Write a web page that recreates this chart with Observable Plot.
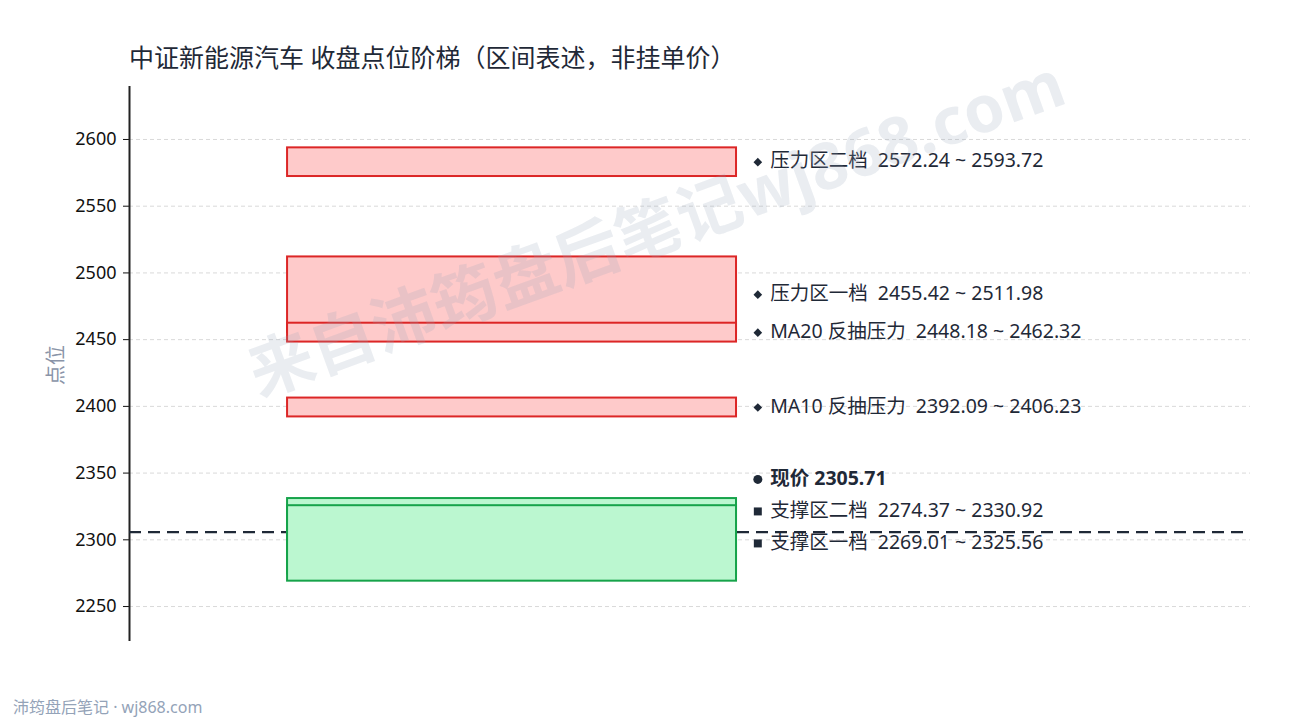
<!DOCTYPE html>
<html>
<head>
<meta charset="utf-8">
<script src="https://cdn.jsdelivr.net/npm/d3@7"></script>
<script src="https://cdn.jsdelivr.net/npm/@observablehq/plot@0.6"></script>
<style>
  html, body { margin: 0; padding: 0; background: #fff; }
  body { width: 1290px; height: 720px; overflow: hidden; font-family: "Noto Sans", "Noto Sans CJK SC", sans-serif; }
  #title { height: 80px; box-sizing: border-box; padding: 42px 0 0 129px; font-size: 25px; line-height: 30px; color: #1f2937; }
  #chart svg text { white-space: pre; }
  #footer { box-sizing: border-box; padding: 37px 0 0 13px; font-size: 16px; line-height: 20px; color: #94a3b8; }
</style>
</head>
<body>
<div id="title">中证新能源汽车 收盘点位阶梯（区间表述，非挂单价）</div>
<div id="chart"></div>
<div id="footer">沛筠盘后笔记 · wj868.com</div>
<script>
// ---- data ----
const zoneNames = ["压力区二档", "压力区一档", "MA20 反抽压力", "MA10 反抽压力", "支撑区二档", "支撑区一档"];
const zoneLow   = [2572.24, 2455.42, 2448.18, 2392.09, 2274.37, 2269.01];
const zoneHigh  = [2593.72, 2511.98, 2462.32, 2406.23, 2330.92, 2325.56];
const zoneKind  = ["压力", "压力", "压力", "压力", "支撑", "支撑"];
const currentLabel = "现价";
const currentPrice = 2305.71;
const yTicks = [2250, 2300, 2350, 2400, 2450, 2500, 2550, 2600];
const yLabel = "点位";
const watermark = "来自沛筠盘后笔记wj868.com";

// ---- build tables ----
const zones = zoneNames.map((name, i) => ({
  name, lo: zoneLow[i], hi: zoneHigh[i], kind: zoneKind[i]
}));

const W = 1290, H = 580, mT = 6, mB = 19, mL = 129, mR = 40;
const yDomain = [2223.8, 2639.7];
const pxPerUnit = (H - mT - mB) / (yDomain[1] - yDomain[0]);
const gapUnits = 32 / pxPerUnit;

// labels (zones + current price), de-overlapped from bottom up
let labels = zones.map(z => ({
  text: `${z.name}  ${z.lo.toFixed(2)} ~ ${z.hi.toFixed(2)}`,
  mid: (z.lo + z.hi) / 2,
  symbol: z.kind === "压力" ? "diamond2" : "square",
  r: z.kind === "压力" ? 3.9 : 4.5,
  bold: false
}));
labels.push({ text: `${currentLabel} ${currentPrice.toFixed(2)}`, mid: currentPrice, symbol: "circle", r: 4.5, bold: true });
labels.sort((a, b) => a.mid - b.mid);
let prev = -Infinity;
for (const l of labels) { l.y = Math.max(l.mid, prev + gapUnits); prev = l.y; }

const colors = {
  "压力": { fill: "#fecaca", stroke: "#dc2626" },
  "支撑": { fill: "#bbf7d0", stroke: "#16a34a" }
};

const font = '"Noto Sans", "Noto Sans CJK SC", sans-serif';

const chart = Plot.plot({
  width: W, height: H,
  marginTop: mT, marginBottom: mB, marginLeft: mL, marginRight: mR,
  style: { fontFamily: font, background: "#fff", overflow: "visible" },
  x: { domain: [0, 1], axis: null },
  y: { domain: yDomain, axis: null },
  r: { type: "identity" },
  marks: [
    Plot.gridY(yTicks, { stroke: "#d9d9d9", strokeOpacity: 1, strokeDasharray: "4,3" }),
    Plot.axisY(yTicks, { tickSize: 6, tickPadding: 7, fontSize: 18, fill: "#111", stroke: "#111", label: null, tickFormat: d => String(d) }),
    Plot.ruleX([0], { stroke: "#222", strokeWidth: 2 }),
    Plot.text([yLabel], { text: d => d, frameAnchor: "left", dx: -73, dy: 21, rotate: -90, fontSize: 20, fill: "#8a94a8" }),
    Plot.dot(labels, { x: 0.5605, y: "y", symbol: "symbol", r: "r", fill: "#1f2937", stroke: null }),
    Plot.text(labels.filter(l => !l.bold), { x: 0.5715, y: "y", text: "text", textAnchor: "start", fontSize: 19.5, fill: "#1f2937", dy: -1 }),
    Plot.text(labels.filter(l => l.bold), { x: 0.5715, y: "y", text: "text", textAnchor: "start", fontSize: 19.5, fontWeight: "bold", fill: "#1f2937", dy: -1 }),
    Plot.ruleY([currentPrice], { stroke: "#1f2937", strokeWidth: 2.2, strokeDasharray: "12,7" }),
    Plot.rect(zones, {
      x1: 0.141, x2: 0.5415, y1: "lo", y2: "hi",
      fill: d => colors[d.kind].fill, stroke: d => colors[d.kind].stroke, strokeWidth: 2
    }),
    Plot.text([watermark], { text: d => d, x: 0.4705, y: 2532, rotate: -20, fontSize: 65, fontWeight: "bold", fill: "#94a3b8", fillOpacity: 0.2 })
  ]
});
document.getElementById("chart").appendChild(chart);
</script>
</body>
</html>
